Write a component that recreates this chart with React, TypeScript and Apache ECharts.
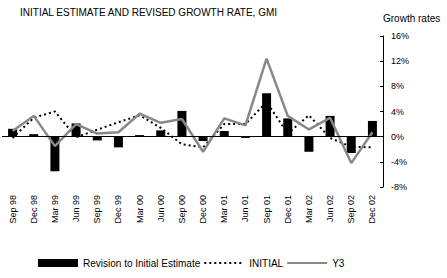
import React, { useEffect, useRef } from "react";
import * as echarts from "echarts";

const categories = [
  "Sep 98", "Dec 98", "Mar 99", "Jun 99", "Sep 99", "Dec 99", "Mar 00", "Jun 00", "Sep 00",
  "Dec 00", "Mar 01", "Jun 01", "Sep 01", "Dec 01", "Mar 02", "Jun 02", "Sep 02", "Dec 02",
];
const revision = [1.25, 0.4, -5.5, 2.1, -0.6, -1.7, 0.25, 1.0, 4.1, -0.7, 0.9, -0.2, 6.9, 2.9, -2.4, 3.3, -2.6, 2.5];
const initial = [-0.2, 3.0, 4.0, -0.1, 1.1, 2.3, 3.4, 1.4, -1.2, -1.7, 2.0, 2.0, 5.5, 0.5, 3.4, -0.2, -1.6, -1.7];
const y3 = [0.9, 3.3, -1.5, 2.0, 0.5, 0.7, 3.65, 2.2, 2.8, -2.4, 2.9, 1.8, 12.4, 3.3, 1.15, 3.0, -4.2, 0.7];

const FONT = "'Liberation Sans', Arial, sans-serif";

export default function App() {
  const ref = useRef<HTMLDivElement>(null);
  useEffect(() => {
    if (!ref.current) return;
    const chart = echarts.init(ref.current, null, { renderer: "svg" });
    chart.setOption({
      animation: false,
      backgroundColor: "#ffffff",
      textStyle: { fontFamily: FONT, color: "#000" },
      title: {
        text: "INITIAL ESTIMATE AND REVISED GROWTH RATE, GMI",
        left: 20,
        top: 7,
        padding: 0,
        textStyle: { fontSize: 10, fontWeight: "normal", color: "#000", fontFamily: FONT },
      },
      graphic: [
        {
          type: "text",
          left: 383,
          top: 13,
          style: { text: "Growth rates", fontSize: 10, fill: "#000", fontFamily: FONT },
        },
      ],
      grid: { left: 2, right: 64, top: 36, bottom: 91, containLabel: false },
      legend: {
        left: 38,
        top: 258,
        padding: 0,
        itemWidth: 40,
        itemHeight: 8,
        itemGap: 3,
        textStyle: { fontSize: 10, color: "#000", fontFamily: FONT },
        data: [
          { name: "Revision to Initial Estimate", icon: "rect" },
          { name: "INITIAL", itemStyle: { opacity: 0 } },
          { name: "Y3", itemStyle: { opacity: 0 } },
        ],
      },
      xAxis: {
        type: "category",
        data: categories,
        boundaryGap: true,
        axisLine: { show: false },
        axisTick: { show: false },
        axisLabel: { rotate: 90, fontSize: 9, color: "#000", margin: 8, interval: 0, fontFamily: FONT },
      },
      yAxis: {
        type: "value",
        position: "right",
        min: -8,
        max: 16,
        interval: 4,
        splitLine: { show: false },
        axisLine: { show: true, lineStyle: { color: "#000", width: 1 } },
        axisTick: { show: true, inside: true, length: 3, lineStyle: { color: "#000" } },
        axisLabel: { formatter: "{value}%", fontSize: 9, color: "#000", margin: 8, fontFamily: FONT },
      },
      series: [
        {
          name: "Revision to Initial Estimate",
          type: "bar",
          data: revision,
          barWidth: 9,
          itemStyle: { color: "#000" },
          markLine: {
            silent: true,
            symbol: "none",
            label: { show: false },
            lineStyle: { color: "#000", type: "solid", width: 1 },
            data: [{ yAxis: 0 }],
          },
        },
        {
          name: "INITIAL",
          type: "line",
          data: initial,
          symbol: "none",
          lineStyle: { color: "#000", width: 2, type: [2, 3] },
          itemStyle: { color: "#000" },
        },
        {
          name: "Y3",
          type: "line",
          data: y3,
          symbol: "none",
          lineStyle: { color: "#888", width: 2.5 },
          itemStyle: { color: "#888" },
        },
      ],
    });
    return () => chart.dispose();
  }, []);
  return (
    <div
      ref={ref}
      style={{ position: "fixed", left: 0, top: 0, width: 447, height: 278, background: "#fff" }}
    />
  );
}
